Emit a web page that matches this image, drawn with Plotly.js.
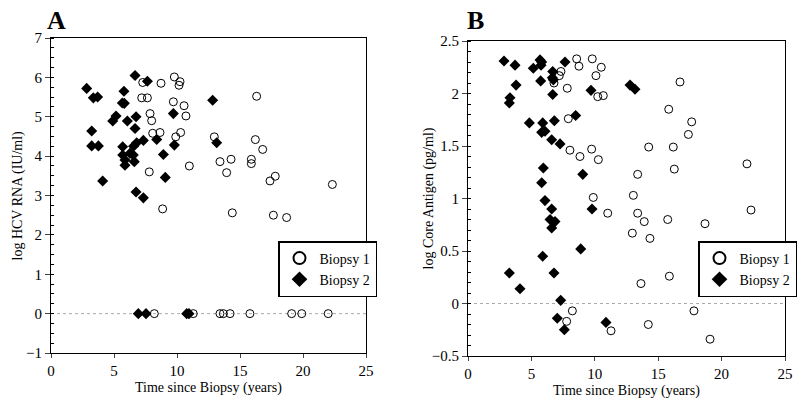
<!DOCTYPE html>
<html>
<head>
<meta charset="utf-8">
<script src="https://cdn.plot.ly/plotly-3.0.1.min.js"></script>
<style>html,body{margin:0;padding:0;background:#fff;}#chart{width:800px;height:404px;}</style>
</head>
<body>
<div id="chart"></div>
<script>
// Panel A: log HCV RNA (IU/ml) vs time since biopsy (years)
const rnaB1x = [7.28, 8.73, 9.79, 10.24, 10.16, 7.20, 7.65, 9.71, 10.56, 10.71, 7.86, 7.99, 8.07, 8.65, 9.90, 10.29, 16.32, 12.96, 16.22, 16.80, 10.98, 13.41, 14.29, 15.90, 15.90, 13.94, 17.38, 17.80, 22.33, 8.86, 14.39, 17.65, 18.70, 7.80,
  8.2, 11.29, 13.41, 13.68, 14.21, 15.79, 19.1, 19.9, 22.0];
const rnaB1y = [5.87, 5.85, 6.01, 5.89, 5.80, 5.48, 5.48, 5.38, 5.28, 5.02, 5.08, 4.90, 4.58, 4.60, 4.49, 4.60, 5.52, 4.49, 4.42, 4.17, 3.75, 3.86, 3.92, 3.92, 3.81, 3.58, 3.37, 3.49, 3.28, 2.66, 2.56, 2.50, 2.44, 3.60,
  0, 0, 0, 0, 0, 0, 0, 0, 0];
const rnaB2x = [6.67, 7.65, 2.83, 3.36, 3.70, 5.79, 5.66, 5.82, 5.16, 4.90, 6.06, 6.75, 6.67, 9.71, 3.23, 8.39, 7.33, 6.80, 3.23, 3.76, 5.69, 6.55, 9.79, 8.92, 5.69, 6.27, 6.53, 5.87, 6.61, 5.87, 4.10, 9.07, 6.75, 7.33, 12.83, 13.15,
  6.93, 7.54, 10.77, 10.95];
const rnaB2y = [6.05, 5.90, 5.72, 5.48, 5.50, 5.65, 5.35, 5.34, 5.02, 4.89, 4.89, 5.00, 4.70, 5.08, 4.64, 4.42, 4.40, 4.34, 4.26, 4.26, 4.24, 4.25, 4.28, 4.04, 4.03, 4.07, 4.03, 3.90, 3.86, 3.77, 3.37, 3.46, 3.09, 2.94, 5.42, 4.34,
  0, 0, 0, 0];

// Panel B: log Core Antigen (pg/ml) vs time since biopsy (years)
const agB1x = [8.57, 8.75, 9.80, 7.33, 7.20, 6.78, 7.83, 10.09, 10.51, 10.23, 10.67, 7.91, 8.04, 8.83, 9.75, 10.28, 16.72, 15.83, 17.64, 17.38, 14.25, 16.19, 9.88, 16.27, 22.0, 13.38, 13.04, 11.02, 13.38, 13.90, 15.75, 18.69, 22.32, 12.96, 14.35, 15.88, 13.64, 8.23, 7.78, 11.28, 14.22, 17.82, 19.09];
const agB1y = [2.33, 2.26, 2.33, 2.21, 2.17, 2.10, 2.05, 2.17, 2.25, 1.97, 1.98, 1.76, 1.46, 1.40, 1.47, 1.37, 2.11, 1.85, 1.73, 1.61, 1.49, 1.49, 1.01, 1.28, 1.33, 1.23, 1.03, 0.86, 0.86, 0.78, 0.80, 0.76, 0.89, 0.67, 0.62, 0.26, 0.19, -0.07, -0.17, -0.26, -0.20, -0.07, -0.34];
const agB2x = [2.84, 3.71, 3.79, 3.31, 3.26, 5.15, 5.68, 5.81, 5.76, 5.73, 6.68, 6.65, 6.73, 6.68, 7.65, 9.70, 4.84, 5.89, 6.81, 8.49, 5.81, 6.07, 6.60, 7.26, 12.78, 13.17, 5.94, 5.81, 6.07, 6.60, 6.47, 6.86, 6.60, 9.05, 9.78, 8.89, 5.89, 3.26, 6.78, 4.10, 7.31, 7.04, 7.60, 10.88];
const agB2y = [2.31, 2.27, 2.08, 1.96, 1.91, 2.24, 2.32, 2.30, 2.27, 2.12, 2.21, 2.15, 2.13, 1.99, 2.30, 2.03, 1.72, 1.72, 1.74, 1.79, 1.63, 1.64, 1.56, 1.52, 2.08, 2.04, 1.29, 1.15, 0.98, 0.90, 0.80, 0.78, 0.72, 1.23, 0.90, 0.52, 0.45, 0.29, 0.29, 0.14, 0.03, -0.14, -0.25, -0.18];

const seriesNames = ["Biopsy 1", "Biopsy 2"];
const xTicks = [0, 5, 10, 15, 20, 25];
const yTicksA = [-1, 0, 1, 2, 3, 4, 5, 6, 7];
const yTicksB = [-0.5, 0, 0.5, 1, 1.5, 2, 2.5];
const xTitle = "Time since Biopsy (years)";
const yTitleA = "log HCV RNA (IU/ml)";
const yTitleB = "log Core Antigen (pg/ml)";

const serif = "Liberation Serif, Times New Roman, serif";
const circ = {symbol: "circle-open", size: 8, color: "#000", line: {width: 1, color: "#000"}};
const diam = {symbol: "diamond", size: 8.5, color: "#000"};

const traces = [
  {x: rnaB1x, y: rnaB1y, xaxis: "x", yaxis: "y", mode: "markers", type: "scatter", name: seriesNames[0], marker: circ, legend: "legend"},
  {x: rnaB2x, y: rnaB2y, xaxis: "x", yaxis: "y", mode: "markers", type: "scatter", name: seriesNames[1], marker: diam, legend: "legend"},
  {x: agB1x, y: agB1y, xaxis: "x2", yaxis: "y2", mode: "markers", type: "scatter", name: seriesNames[0], marker: circ, legend: "legend2"},
  {x: agB2x, y: agB2y, xaxis: "x2", yaxis: "y2", mode: "markers", type: "scatter", name: seriesNames[1], marker: diam, legend: "legend2"}
];

function xax(domain, anchor) {
  return {domain: domain, anchor: anchor, range: [0, 25], tickvals: xTicks, ticks: "outside", ticklen: 4,
    showline: true, mirror: true, linecolor: "#000", linewidth: 1, showgrid: false, zeroline: false,
    tickfont: {family: serif, size: 15, color: "#000"}};
}
function yax(domain, anchor, range, vals, minorD) {
  return {domain: domain, anchor: anchor, range: range, tickvals: vals, ticks: "outside", ticklen: 5,
    minor: {dtick: minorD, ticks: "inside", ticklen: 3, tickcolor: "#000", showgrid: false},
    showline: true, mirror: true, linecolor: "#000", linewidth: 1, showgrid: false, zeroline: false,
    tickfont: {family: serif, size: 15, color: "#000"}};
}

const legendStyle = {font: {family: serif, size: 14, color: "#000"}, bgcolor: "#fff", bordercolor: "#000", borderwidth: 1.5,
  xanchor: "left", yanchor: "top", itemsizing: "constant", tracegroupgap: 0};

const titleFont = {family: serif, size: 14, color: "#000"};
const layout = {
  width: 800, height: 404,
  margin: {l: 0, r: 0, t: 0, b: 0},
  paper_bgcolor: "#fff", plot_bgcolor: "#fff",
  showlegend: true,
  xaxis: xax([51/800, 366/800], "y"),
  yaxis: yax([1 - 353/404, 1 - 38/404], "x", [-1, 7], yTicksA, 0.25),
  xaxis2: xax([468/800, 785/800], "y2"),
  yaxis2: yax([1 - 356/404, 1 - 41/404], "x2", [-0.5, 2.5], yTicksB, 0.1),
  legend: Object.assign({x: 278/800, y: 1 - 241/404}, legendStyle),
  legend2: Object.assign({x: 698/800, y: 1 - 241/404}, legendStyle),
  shapes: [
    {type: "line", xref: "x domain", yref: "y", x0: 0, x1: 1, y0: 0, y1: 0, line: {color: "#aaa", width: 1, dash: "dot"}, layer: "below"},
    {type: "line", xref: "x2 domain", yref: "y2", x0: 0, x1: 1, y0: 0, y1: 0, line: {color: "#aaa", width: 1, dash: "dot"}, layer: "below"}
  ],
  annotations: [
    {text: "<b>A</b>", xref: "paper", yref: "paper", x: 57/800, y: 1 - 20/404, xanchor: "center", yanchor: "middle", showarrow: false, font: {family: serif, size: 26, color: "#000"}},
    {text: "<b>B</b>", xref: "paper", yref: "paper", x: 475/800, y: 1 - 20/404, xanchor: "center", yanchor: "middle", showarrow: false, font: {family: serif, size: 26, color: "#000"}},
    {text: xTitle, xref: "x domain", yref: "paper", x: 0.5, y: 1 - 388/404, xanchor: "center", yanchor: "middle", showarrow: false, font: titleFont},
    {text: xTitle, xref: "x2 domain", yref: "paper", x: 0.5, y: 1 - 391/404, xanchor: "center", yanchor: "middle", showarrow: false, font: titleFont},
    {text: yTitleA, xref: "paper", yref: "y domain", x: 17/800, y: 0.5, xanchor: "center", yanchor: "middle", textangle: -90, showarrow: false, font: titleFont},
    {text: yTitleB, xref: "paper", yref: "y2 domain", x: 428/800, y: 0.5, xanchor: "center", yanchor: "middle", textangle: -90, showarrow: false, font: titleFont}
  ]
};

Plotly.newPlot("chart", traces, layout, {displayModeBar: false, staticPlot: true});
</script>
</body>
</html>
